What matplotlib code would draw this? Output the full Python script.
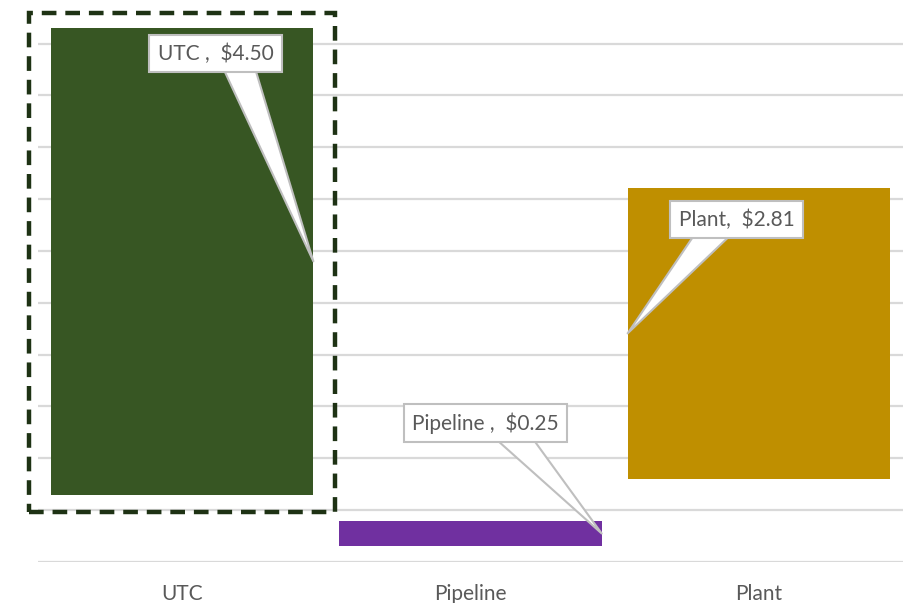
import matplotlib
matplotlib.use("Agg")
import matplotlib.pyplot as plt
from matplotlib.patches import Rectangle

# floating bars: where each bar starts and how tall it is
categories = ["UTC", "Pipeline", "Plant"]
bottoms = [0.65, 0.15, 0.80]
values = [4.50, 0.25, 2.81]
separators = [" ,  ", " ,  ", ",  "]
colors = ["#375623", "#7030a0", "#bf8f00"]

# callout offsets (points) from the anchor on the bar edge
callout_offsets = [(-70.5, 149.5), (-83.5, 79.5), (78.5, 82)]
callout_relpos = [0.66, 0.61, 0.39]   # where the wedge leaves the box
anchor_side = [1, 1, -1]   # +1 right edge, -1 left edge

grid_vals = [0.5 * k for k in range(1, 11)]
text_col = "#595959"
grid_col = "#d9d9d9"
bar_w = 0.91

plt.rcParams["font.family"] = ["Lato", "DejaVu Sans"]

fig = plt.figure(figsize=(9.13, 6.03), dpi=100)
ax = fig.add_axes([38 / 913, (603 - 562) / 603, 865 / 913, 562 / 603])
ax.set_xlim(-0.5, 2.5)
ax.set_ylim(0, 5.42)

for g in grid_vals:
    ax.axhline(g, color=grid_col, lw=1.6, zorder=0)
ax.axhline(0, color=grid_col, lw=1.6, zorder=0)

x = list(range(len(categories)))
ax.bar(x, values, bottom=bottoms, width=bar_w, color=colors, zorder=2)

# dashed highlight box around the first bar
pad_x, pad_lo, pad_hi = 0.076, 0.165, 0.14
ax.add_patch(Rectangle((x[0] - bar_w / 2 - pad_x, bottoms[0] - pad_lo),
                       bar_w + 2 * pad_x, values[0] + pad_lo + pad_hi,
                       fill=False, ec="#1e3214", lw=3.2,
                       ls=(0, (3.3, 2.0)), zorder=3, clip_on=False))

for i, cat in enumerate(categories):
    ax_x = x[i] + anchor_side[i] * bar_w / 2
    ax_y = bottoms[i] + values[i] / 2
    ax.annotate(f"{cat}{separators[i]}${values[i]:.2f}", xy=(ax_x, ax_y),
                xytext=callout_offsets[i], textcoords="offset points",
                ha="center", va="center", fontsize=15, color=text_col, zorder=5,
                bbox=dict(boxstyle="square,pad=0.4", fc="white", ec="#bfbfbf", lw=1.5),
                arrowprops=dict(arrowstyle="wedge,tail_width=1.15", mutation_scale=20,
                                fc="white", ec="#bfbfbf", lw=1.5,
                                relpos=(callout_relpos[i], 0.5),
                                shrinkA=0, shrinkB=0, patchA=None))

ax.set_xticks(x)
ax.set_xticklabels(categories, fontsize=15, color=text_col)
ax.tick_params(axis="x", length=0, pad=16)
ax.set_yticks([])
for s in ax.spines.values():
    s.set_visible(False)

fig.savefig("out.png", dpi=100)
